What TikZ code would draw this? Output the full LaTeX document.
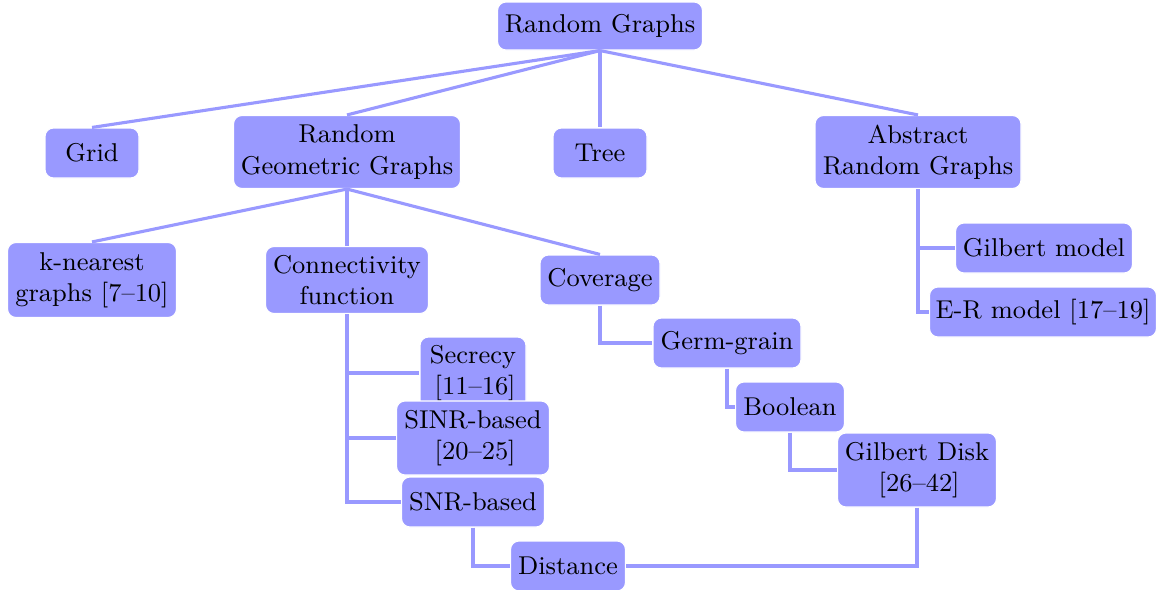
\documentclass[tikz,border=0pt]{standalone}
\usetikzlibrary{calc}
\tikzset{
  box/.style={fill=blue!40, draw=white, line width=0.4pt, rounded corners=3pt, align=center,
    inner sep=2pt, minimum height=#1*0.3533pt, font=\fontsize{9.1}{11.1}\selectfont},
  box/.default=50,
  bw/.style={minimum width=#1*0.3533pt},
  conn/.style={draw=blue!40, line width=1.1pt},
}
\begin{document}
\begin{tikzpicture}[x=0.3533pt,y=-0.3533pt]
\useasboundingbox (0,0) rectangle (1158,590);
\node[box=48,bw=205] (rg) at (600,26) {Random Graphs};
\node[box,bw=94] (grid) at (92,153) {Grid};
\node[box=73,bw=227] (rgg) at (347,152) {Random\\Geometric Graphs};
\node[box,bw=94] (tree) at (600,153) {Tree};
\node[box=73,bw=206] (arg) at (918,152) {Abstract\\Random Graphs};
\node[box=75,bw=169] (knn) at (92,280) {k-nearest\\graphs [7--10]};
\node[box=67,bw=163] (conf) at (347,280) {Connectivity\\function};
\node[box,bw=120] (cov) at (600,280) {Coverage};
\node[box,bw=177] (gm) at (1044,248) {Gilbert model};
\node[box,bw=227] (er) at (1043,312) {E-R model [17--19]};
\node[box,bw=148] (germ) at (727,343) {Germ-grain};
\node[box,bw=109] (bool) at (790,407) {Boolean};
\node[box=74,bw=159] (gd) at (917,470) {Gilbert Disk\\ \,[26--42]};
\node[box=72,bw=106] (sec) at (473,373) {Secrecy\\ \,[11--16]};
\node[box=74,bw=153] (sinr) at (473,438) {SINR-based\\ \,[20--25]};
\node[box,bw=143] (snr) at (473,502) {SNR-based};
\node[box,bw=115] (dist) at (568,566) {Distance};

\draw[conn] (rg.south) -- (grid.north);
\draw[conn] (rg.south) -- (rgg.north);
\draw[conn] (rg.south) -- (tree.north);
\draw[conn] (rg.south) -- (arg.north);
\draw[conn] (rgg.south) -- (knn.north);
\draw[conn] (rgg.south) -- (conf.north);
\draw[conn] (rgg.south) -- (cov.north);
\draw[conn] (arg.south) |- (gm.west);
\draw[conn] (arg.south) |- (er.west);
\draw[conn] (cov.south) |- (germ.west);
\draw[conn] (germ.south) |- (bool.west);
\draw[conn] (bool.south) |- (gd.west);
\draw[conn] (conf.south) |- (sec.west);
\draw[conn] (conf.south) |- (sinr.west);
\draw[conn] (conf.south) |- (snr.west);
\draw[conn] (snr.south) |- (dist.west);
\draw[conn] (gd.south) |- (dist.east);
\end{tikzpicture}
\end{document}
